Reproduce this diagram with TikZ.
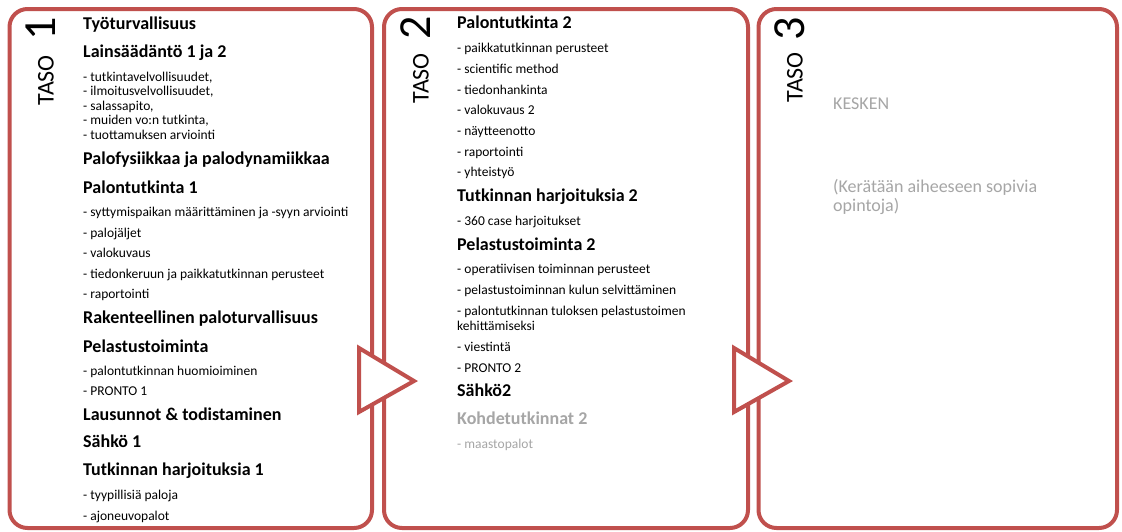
\documentclass[tikz,border=0pt]{standalone}
\usepackage{fontspec}
\setmainfont{Carlito}
\definecolor{boxred}{HTML}{C0504D}
\definecolor{softgray}{HTML}{A6A6A6}
\newcommand{\headfnt}{\fontsize{18}{20}\selectfont\bfseries}
\newcommand{\itemfnt}{\fontsize{13.5}{15}\selectfont}
\newcommand{\grayfnt}{\fontsize{18}{20}\selectfont}
\tikzset{
  levelbox/.style={draw=boxred, line width=4pt, rounded corners=18pt, fill=white, inner sep=0pt},
  arrowtri/.style={draw=boxred, line width=4pt, fill=white, line join=miter},
  head/.style={anchor=base west, inner sep=0pt, font=\headfnt},
  item/.style={anchor=base west, inner sep=0pt, font=\itemfnt},
  grayhead/.style={head, text=softgray},
  grayitem/.style={item, text=softgray},
  graytext/.style={anchor=base west, inner sep=0pt, font=\grayfnt, text=softgray},
  tasoword/.style={rotate=90, anchor=base west, inner sep=0pt, font=\fontsize{24}{26}\selectfont},
  tasonum/.style={rotate=90, anchor=base west, inner sep=0pt, font=\fontsize{46}{48}\selectfont},
}
\begin{document}
\begin{tikzpicture}[x=1pt,y=-1pt]
\useasboundingbox (0,0) rectangle (1122,531);
% boxes
\node[levelbox, minimum width=362.5pt, minimum height=519pt] (b1) at (190.75,268.5) {};
\node[levelbox, minimum width=364pt, minimum height=519pt] (b2) at (566,268.5) {};
\node[levelbox, minimum width=358.5pt, minimum height=519pt] (b3) at (937.75,268.5) {};
% arrows between boxes
\coordinate (a1top) at (359,348);
\coordinate (a1tip) at (414,381);
\coordinate (a1bot) at (359,412);
\coordinate (a2top) at (734,348);
\coordinate (a2tip) at (789,381);
\coordinate (a2bot) at (734,412);
\draw[arrowtri] (a1top) -- (a1tip) -- (a1bot) -- cycle;
\draw[arrowtri] (a2top) -- (a2tip) -- (a2bot) -- cycle;
% TASO labels
\node[tasoword] (taso1) at (53.5,106) {TASO};
\node[tasonum] (num1) at (55,41) {1};
\node[tasoword] (taso2) at (428.5,104) {TASO};
\node[tasonum] (num2) at (430,40) {2};
\node[tasoword] (taso3) at (802.5,103) {TASO};
\node[tasonum] (num3) at (804,41) {3};
% box 1 content
\node[head] (h11) at (83,29) {Työturvallisuus};
\node[head] (h12) at (83,57) {Lainsäädäntö 1 ja 2};
\node[item] (i121) at (83,81) {- tutkintavelvollisuudet,};
\node[item] (i122) at (83,95.5) {- ilmoitusvelvollisuudet,};
\node[item] (i123) at (83,110) {- salassapito,};
\node[item] (i124) at (83,124.5) {- muiden vo:n tutkinta,};
\node[item] (i125) at (83,139) {- tuottamuksen arviointi};
\node[head] (h13) at (83,164) {Palofysiikkaa ja palodynamiikkaa};
\node[head] (h14) at (83,193) {Palontutkinta 1};
\node[item] (i141) at (83,216) {- syttymispaikan määrittäminen ja -syyn arviointi};
\node[item] (i142) at (83,237) {- palojäljet};
\node[item] (i143) at (83,257.5) {- valokuvaus};
\node[item] (i144) at (83,278) {- tiedonkeruun ja paikkatutkinnan perusteet};
\node[item] (i145) at (83,298.5) {- raportointi};
\node[head] (h15) at (83,323) {Rakenteellinen paloturvallisuus};
\node[head] (h16) at (83,352) {Pelastustoiminta};
\node[item] (i161) at (83,375) {- palontutkinnan huomioiminen};
\node[item] (i162) at (83,395.5) {- PRONTO 1};
\node[head] (h17) at (83,420) {Lausunnot \& todistaminen};
\node[head] (h18) at (83,447.5) {Sähkö 1};
\node[head] (h19) at (83,475) {Tutkinnan harjoituksia 1};
\node[item] (i191) at (83,499.5) {- tyypillisiä paloja};
\node[item] (i192) at (83,520) {- ajoneuvopalot};
% box 2 content
\node[head] (h21) at (457,28.5) {Palontutkinta 2};
\node[item] (i211) at (457,52.5) {- paikkatutkinnan perusteet};
\node[item] (i212) at (457,73.5) {- scientific method};
\node[item] (i213) at (457,94) {- tiedonhankinta};
\node[item] (i214) at (457,114.5) {- valokuvaus 2};
\node[item] (i215) at (457,135) {- näytteenotto};
\node[item] (i216) at (457,156) {- raportointi};
\node[item] (i217) at (457,176.5) {- yhteistyö};
\node[head] (h22) at (457,201.5) {Tutkinnan harjoituksia 2};
\node[item] (i221) at (457,225) {- 360 case harjoitukset};
\node[head] (h23) at (457,250) {Pelastustoiminta 2};
\node[item] (i231) at (457,273.5) {- operatiivisen toiminnan perusteet};
\node[item] (i232) at (457,294.5) {- pelastustoiminnan kulun selvittäminen};
\node[item] (i233) at (457,315) {- palontutkinnan tuloksen pelastustoimen};
\node[item] (i234) at (457,330) {kehittämiseksi};
\node[item] (i235) at (457,351) {- viestintä};
\node[item] (i236) at (457,372) {- PRONTO 2};
\node[head] (h24) at (457,396.5) {Sähkö2};
\node[grayhead] (h25) at (457,424.5) {Kohdetutkinnat 2};
\node[grayitem] (i251) at (457,448) {- maastopalot};
% box 3 content
\node[graytext] (k31) at (833,109) {KESKEN};
\node[graytext] (k32) at (833,192.5) {(Kerätään aiheeseen sopivia};
\node[graytext] (k33) at (833,211.5) {opintoja)};
\end{tikzpicture}
\end{document}
